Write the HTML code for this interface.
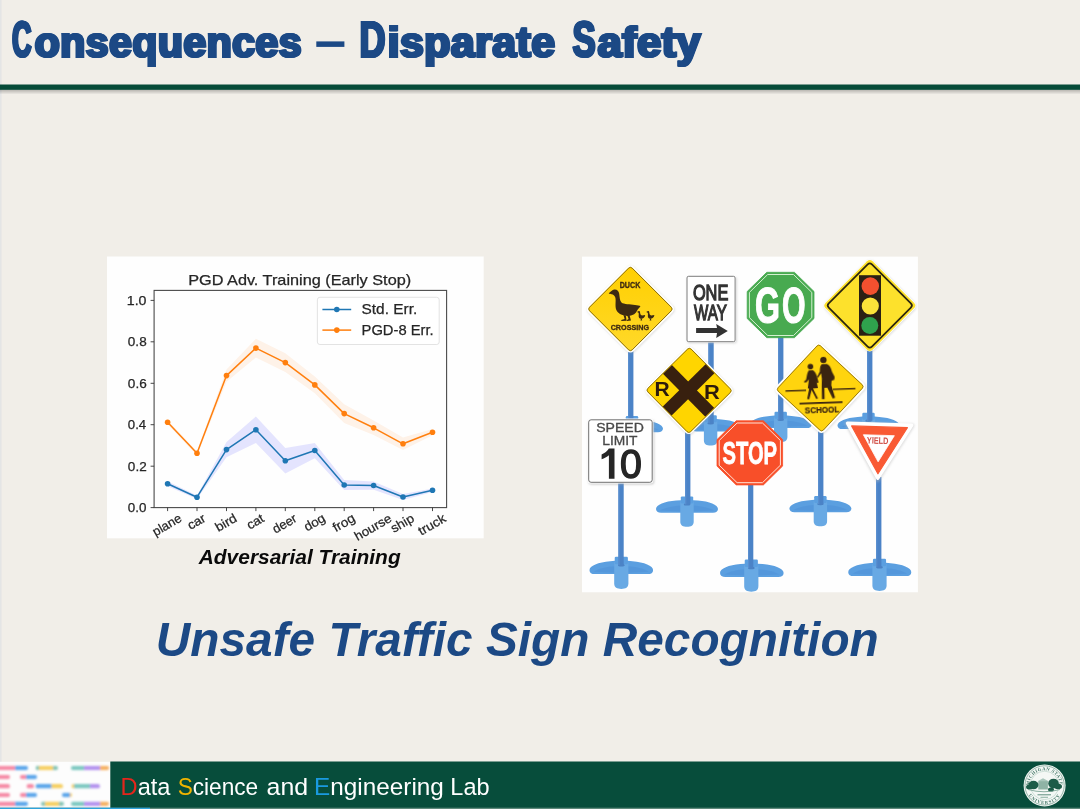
<!DOCTYPE html>
<html><head><meta charset="utf-8">
<style>
html,body{margin:0;padding:0;}
body{width:1080px;height:809px;overflow:hidden;background:#f1eee8;font-family:"Liberation Sans",sans-serif;position:relative;}
svg{position:absolute;left:0;top:0;}
text{font-family:"Liberation Sans",sans-serif;}
</style></head><body>
<svg width="1080" height="809" viewBox="0 0 1080 809">
<defs>
<filter id="blur1" x="-10%" y="-10%" width="120%" height="120%"><feGaussianBlur stdDeviation="1.1"/></filter>
<filter id="blur05" x="-10%" y="-10%" width="120%" height="120%"><feGaussianBlur stdDeviation="0"/></filter>
<filter id="blur2" x="-20%" y="-20%" width="140%" height="140%"><feGaussianBlur stdDeviation="1.6"/></filter>
<linearGradient id="rulesh" x1="0" y1="0" x2="0" y2="1"><stop offset="0" stop-color="#000" stop-opacity="0.28"/><stop offset="1" stop-color="#000" stop-opacity="0"/></linearGradient>
<linearGradient id="ygrad" x1="0" y1="0" x2="1" y2="1"><stop offset="0" stop-color="#ffcf00"/><stop offset="1" stop-color="#ffd92a"/></linearGradient>
<clipPath id="signclip"><rect x="582" y="256.5" width="336" height="336"/></clipPath>
</defs>

<g opacity="0.999">
<text x="11.60" y="56.9" font-size="50.4" font-weight="bold" fill="#1c4985" stroke="#1c4985" stroke-width="2.0" textLength="19.5" lengthAdjust="spacingAndGlyphs" letter-spacing="0.4">C</text>
<text x="12.20" y="56.9" font-size="50.4" font-weight="bold" fill="#1c4985" stroke="#1c4985" stroke-width="2.0" textLength="19.5" lengthAdjust="spacingAndGlyphs" letter-spacing="0.4">C</text>
<text x="12.80" y="56.9" font-size="50.4" font-weight="bold" fill="#1c4985" stroke="#1c4985" stroke-width="2.0" textLength="19.5" lengthAdjust="spacingAndGlyphs" letter-spacing="0.4">C</text>
<text x="34.07" y="56.9" font-size="43.0" font-weight="bold" fill="#1c4985" stroke="#1c4985" stroke-width="2.0" textLength="267.27" lengthAdjust="spacingAndGlyphs" letter-spacing="0.4">onsequences</text>
<text x="34.67" y="56.9" font-size="43.0" font-weight="bold" fill="#1c4985" stroke="#1c4985" stroke-width="2.0" textLength="267.27" lengthAdjust="spacingAndGlyphs" letter-spacing="0.4">onsequences</text>
<text x="35.27" y="56.9" font-size="43.0" font-weight="bold" fill="#1c4985" stroke="#1c4985" stroke-width="2.0" textLength="267.27" lengthAdjust="spacingAndGlyphs" letter-spacing="0.4">onsequences</text>
<rect x="316.3" y="41.4" width="28.1" height="5.5" fill="#1c4985"/>
<text x="358.90" y="56.9" font-size="50.4" font-weight="bold" fill="#1c4985" stroke="#1c4985" stroke-width="2.0" textLength="26.31" lengthAdjust="spacingAndGlyphs" letter-spacing="0.4">D</text>
<text x="359.50" y="56.9" font-size="50.4" font-weight="bold" fill="#1c4985" stroke="#1c4985" stroke-width="2.0" textLength="26.31" lengthAdjust="spacingAndGlyphs" letter-spacing="0.4">D</text>
<text x="360.10" y="56.9" font-size="50.4" font-weight="bold" fill="#1c4985" stroke="#1c4985" stroke-width="2.0" textLength="26.31" lengthAdjust="spacingAndGlyphs" letter-spacing="0.4">D</text>
<text x="386.97" y="56.9" font-size="43.0" font-weight="bold" fill="#1c4985" stroke="#1c4985" stroke-width="2.0" textLength="167.95" lengthAdjust="spacingAndGlyphs" letter-spacing="0.4">isparate</text>
<text x="387.57" y="56.9" font-size="43.0" font-weight="bold" fill="#1c4985" stroke="#1c4985" stroke-width="2.0" textLength="167.95" lengthAdjust="spacingAndGlyphs" letter-spacing="0.4">isparate</text>
<text x="388.17" y="56.9" font-size="43.0" font-weight="bold" fill="#1c4985" stroke="#1c4985" stroke-width="2.0" textLength="167.95" lengthAdjust="spacingAndGlyphs" letter-spacing="0.4">isparate</text>
<text x="571.98" y="56.9" font-size="50.4" font-weight="bold" fill="#1c4985" stroke="#1c4985" stroke-width="2.0" textLength="23.23" lengthAdjust="spacingAndGlyphs" letter-spacing="0.4">S</text>
<text x="572.58" y="56.9" font-size="50.4" font-weight="bold" fill="#1c4985" stroke="#1c4985" stroke-width="2.0" textLength="23.23" lengthAdjust="spacingAndGlyphs" letter-spacing="0.4">S</text>
<text x="573.18" y="56.9" font-size="50.4" font-weight="bold" fill="#1c4985" stroke="#1c4985" stroke-width="2.0" textLength="23.23" lengthAdjust="spacingAndGlyphs" letter-spacing="0.4">S</text>
<text x="596.98" y="56.9" font-size="43.0" font-weight="bold" fill="#1c4985" stroke="#1c4985" stroke-width="2.0" textLength="103.55" lengthAdjust="spacingAndGlyphs" letter-spacing="0.4">afety</text>
<text x="597.58" y="56.9" font-size="43.0" font-weight="bold" fill="#1c4985" stroke="#1c4985" stroke-width="2.0" textLength="103.55" lengthAdjust="spacingAndGlyphs" letter-spacing="0.4">afety</text>
<text x="598.18" y="56.9" font-size="43.0" font-weight="bold" fill="#1c4985" stroke="#1c4985" stroke-width="2.0" textLength="103.55" lengthAdjust="spacingAndGlyphs" letter-spacing="0.4">afety</text>
<rect x="0" y="0" width="1.6" height="762" fill="#e4e5e5"/>
<rect x="0" y="89" width="1080" height="5.5" fill="url(#rulesh)"/>
<rect x="0" y="84.5" width="1080" height="5.3" fill="#064b38"/>
<g id="chart">
<rect x="107" y="256.5" width="376.7" height="281.8" fill="#fefefe"/>
<polygon points="167.6,420.2 197.0,451.2 226.5,369.4 255.9,338.7 285.3,353.2 314.8,376.6 344.2,404.3 373.6,420.6 403.0,437.6 432.5,429.1 432.5,435.3 403.0,450.0 373.6,435.1 344.2,422.9 314.8,393.2 285.3,371.9 255.9,357.4 226.5,381.8 197.0,455.4 167.6,424.3" fill="#ff7f0e" fill-opacity="0.09"/>
<polygon points="167.6,481.3 197.0,495.6 226.5,441.9 255.9,416.4 285.3,448.1 314.8,442.9 344.2,480.0 373.6,481.4 403.0,493.9 432.5,488.5 432.5,491.9 403.0,500.1 373.6,489.7 344.2,490.0 314.8,458.2 285.3,473.4 255.9,443.0 226.5,457.3 197.0,498.9 167.6,486.3" fill="#0000ff" fill-opacity="0.1"/>
<polyline points="167.6,422.2 197.0,453.3 226.5,375.6 255.9,348.1 285.3,362.6 314.8,384.9 344.2,413.6 373.6,427.8 403.0,443.8 432.5,432.2" fill="none" stroke="#ff7f0e" stroke-width="1.5" stroke-linejoin="round"/>
<circle cx="167.6" cy="422.2" r="2.8" fill="#ff7f0e"/>
<circle cx="197.0" cy="453.3" r="2.8" fill="#ff7f0e"/>
<circle cx="226.5" cy="375.6" r="2.8" fill="#ff7f0e"/>
<circle cx="255.9" cy="348.1" r="2.8" fill="#ff7f0e"/>
<circle cx="285.3" cy="362.6" r="2.8" fill="#ff7f0e"/>
<circle cx="314.8" cy="384.9" r="2.8" fill="#ff7f0e"/>
<circle cx="344.2" cy="413.6" r="2.8" fill="#ff7f0e"/>
<circle cx="373.6" cy="427.8" r="2.8" fill="#ff7f0e"/>
<circle cx="403.0" cy="443.8" r="2.8" fill="#ff7f0e"/>
<circle cx="432.5" cy="432.2" r="2.8" fill="#ff7f0e"/>
<polyline points="167.6,483.8 197.0,497.2 226.5,449.6 255.9,429.7 285.3,460.8 314.8,450.5 344.2,485.0 373.6,485.5 403.0,497.0 432.5,490.2" fill="none" stroke="#1f77b4" stroke-width="1.5" stroke-linejoin="round"/>
<circle cx="167.6" cy="483.8" r="2.8" fill="#1f77b4"/>
<circle cx="197.0" cy="497.2" r="2.8" fill="#1f77b4"/>
<circle cx="226.5" cy="449.6" r="2.8" fill="#1f77b4"/>
<circle cx="255.9" cy="429.7" r="2.8" fill="#1f77b4"/>
<circle cx="285.3" cy="460.8" r="2.8" fill="#1f77b4"/>
<circle cx="314.8" cy="450.5" r="2.8" fill="#1f77b4"/>
<circle cx="344.2" cy="485.0" r="2.8" fill="#1f77b4"/>
<circle cx="373.6" cy="485.5" r="2.8" fill="#1f77b4"/>
<circle cx="403.0" cy="497.0" r="2.8" fill="#1f77b4"/>
<circle cx="432.5" cy="490.2" r="2.8" fill="#1f77b4"/>
<rect x="154.1" y="290.4" width="292.5" height="217.20000000000005" fill="none" stroke="#4a4a4a" stroke-width="1.1"/>
<line x1="150.6" x2="154.1" y1="507.6" y2="507.6" stroke="#333" stroke-width="0.9"/>
<text x="127.87" y="512.0" font-size="12.7" font-weight="normal" font-style="normal" fill="#262626" stroke="#262626" stroke-width="0.25" textLength="18.58" lengthAdjust="spacingAndGlyphs">0.0</text>
<line x1="150.6" x2="154.1" y1="466.2" y2="466.2" stroke="#333" stroke-width="0.9"/>
<text x="127.87" y="470.6" font-size="12.7" font-weight="normal" font-style="normal" fill="#262626" stroke="#262626" stroke-width="0.25" textLength="18.8" lengthAdjust="spacingAndGlyphs">0.2</text>
<line x1="150.6" x2="154.1" y1="424.7" y2="424.7" stroke="#333" stroke-width="0.9"/>
<text x="127.87" y="429.1" font-size="12.7" font-weight="normal" font-style="normal" fill="#262626" stroke="#262626" stroke-width="0.25" textLength="18.35" lengthAdjust="spacingAndGlyphs">0.4</text>
<line x1="150.6" x2="154.1" y1="383.3" y2="383.3" stroke="#333" stroke-width="0.9"/>
<text x="127.87" y="387.7" font-size="12.7" font-weight="normal" font-style="normal" fill="#262626" stroke="#262626" stroke-width="0.25" textLength="18.85" lengthAdjust="spacingAndGlyphs">0.6</text>
<line x1="150.6" x2="154.1" y1="341.8" y2="341.8" stroke="#333" stroke-width="0.9"/>
<text x="127.87" y="346.2" font-size="12.7" font-weight="normal" font-style="normal" fill="#262626" stroke="#262626" stroke-width="0.25" textLength="18.79" lengthAdjust="spacingAndGlyphs">0.8</text>
<line x1="150.6" x2="154.1" y1="300.4" y2="300.4" stroke="#333" stroke-width="0.9"/>
<text x="126.76" y="304.8" font-size="12.7" font-weight="normal" font-style="normal" fill="#262626" stroke="#262626" stroke-width="0.25" textLength="19.7" lengthAdjust="spacingAndGlyphs">1.0</text>
<line x1="167.6" x2="167.6" y1="507.6" y2="511.1" stroke="#333" stroke-width="0.9"/>
<text x="-15.87" y="3.2" font-size="12.7" font-weight="normal" font-style="normal" fill="#262626" stroke="#262626" stroke-width="0.25" textLength="31.39" lengthAdjust="spacingAndGlyphs" transform="translate(167.6,525.7) rotate(-30)">plane</text>
<line x1="197.0" x2="197.0" y1="507.6" y2="511.1" stroke="#333" stroke-width="0.9"/>
<text x="-9.43" y="3.2" font-size="12.7" font-weight="normal" font-style="normal" fill="#262626" stroke="#262626" stroke-width="0.25" textLength="18.57" lengthAdjust="spacingAndGlyphs" transform="translate(197.0,522.6) rotate(-30)">car</text>
<line x1="226.5" x2="226.5" y1="507.6" y2="511.1" stroke="#333" stroke-width="0.9"/>
<text x="-11.45" y="3.2" font-size="12.7" font-weight="normal" font-style="normal" fill="#262626" stroke="#262626" stroke-width="0.25" textLength="22.81" lengthAdjust="spacingAndGlyphs" transform="translate(226.5,523.5) rotate(-30)">bird</text>
<line x1="255.9" x2="255.9" y1="507.6" y2="511.1" stroke="#333" stroke-width="0.9"/>
<text x="-9.09" y="3.2" font-size="12.7" font-weight="normal" font-style="normal" fill="#262626" stroke="#262626" stroke-width="0.25" textLength="17.79" lengthAdjust="spacingAndGlyphs" transform="translate(255.9,522.5) rotate(-30)">cat</text>
<line x1="285.3" x2="285.3" y1="507.6" y2="511.1" stroke="#333" stroke-width="0.9"/>
<text x="-13.15" y="3.2" font-size="12.7" font-weight="normal" font-style="normal" fill="#262626" stroke="#262626" stroke-width="0.25" textLength="25.78" lengthAdjust="spacingAndGlyphs" transform="translate(285.3,524.5) rotate(-30)">deer</text>
<line x1="314.8" x2="314.8" y1="507.6" y2="511.1" stroke="#333" stroke-width="0.9"/>
<text x="-10.9" y="3.2" font-size="12.7" font-weight="normal" font-style="normal" fill="#262626" stroke="#262626" stroke-width="0.25" textLength="22.32" lengthAdjust="spacingAndGlyphs" transform="translate(314.8,523.4) rotate(-30)">dog</text>
<line x1="344.2" x2="344.2" y1="507.6" y2="511.1" stroke="#333" stroke-width="0.9"/>
<text x="-11.68" y="3.2" font-size="12.7" font-weight="normal" font-style="normal" fill="#262626" stroke="#262626" stroke-width="0.25" textLength="23.57" lengthAdjust="spacingAndGlyphs" transform="translate(344.2,523.7) rotate(-30)">frog</text>
<line x1="373.6" x2="373.6" y1="507.6" y2="511.1" stroke="#333" stroke-width="0.9"/>
<text x="-20.46" y="3.2" font-size="12.7" font-weight="normal" font-style="normal" fill="#262626" stroke="#262626" stroke-width="0.25" textLength="40.55" lengthAdjust="spacingAndGlyphs" transform="translate(373.6,528.0) rotate(-30)">hourse</text>
<line x1="403.0" x2="403.0" y1="507.6" y2="511.1" stroke="#333" stroke-width="0.9"/>
<text x="-12.54" y="3.2" font-size="12.7" font-weight="normal" font-style="normal" fill="#262626" stroke="#262626" stroke-width="0.25" textLength="24.69" lengthAdjust="spacingAndGlyphs" transform="translate(403.0,524.0) rotate(-30)">ship</text>
<line x1="432.5" x2="432.5" y1="507.6" y2="511.1" stroke="#333" stroke-width="0.9"/>
<text x="-14.8" y="3.2" font-size="12.7" font-weight="normal" font-style="normal" fill="#262626" stroke="#262626" stroke-width="0.25" textLength="29.47" lengthAdjust="spacingAndGlyphs" transform="translate(432.5,525.5) rotate(-30)">truck</text>
<text x="188.2" y="285.2" font-size="14.8" font-weight="normal" font-style="normal" fill="#262626" stroke="#262626" stroke-width="0.25" textLength="222.97" lengthAdjust="spacingAndGlyphs">PGD Adv. Training (Early Stop)</text>
<rect x="317.4" y="297.3" width="121.8" height="47.2" rx="2.5" fill="#fff" fill-opacity="0.8" stroke="#d8d8d8" stroke-opacity="0.8" stroke-width="0.9"/>
<line x1="322.4" x2="351.2" y1="309.5" y2="309.5" stroke="#1f77b4" stroke-width="1.5"/><circle cx="336.8" cy="309.5" r="2.8" fill="#1f77b4"/>
<line x1="322.4" x2="351.2" y1="330.1" y2="330.1" stroke="#ff7f0e" stroke-width="1.5"/><circle cx="336.8" cy="330.1" r="2.8" fill="#ff7f0e"/>
<text x="361.51" y="314.2" font-size="14.8" font-weight="normal" font-style="normal" fill="#262626" stroke="#262626" stroke-width="0.25" textLength="55.7" lengthAdjust="spacingAndGlyphs">Std. Err.</text>
<text x="361.55" y="334.9" font-size="14.8" font-weight="normal" font-style="normal" fill="#262626" stroke="#262626" stroke-width="0.25" textLength="72.16" lengthAdjust="spacingAndGlyphs">PGD-8 Err.</text>
</g>
<g filter="url(#blur05)">
<text x="198.72" y="564" font-size="21.1" font-weight="bold" font-style="italic" fill="#0a0a0a" textLength="201.96" lengthAdjust="spacingAndGlyphs">Adversarial Training</text>
</g>
<g filter="url(#blur05)">
<text x="155.81" y="655.8" font-size="47.5" font-weight="bold" font-style="italic" fill="#1c4985" textLength="722.97" lengthAdjust="spacingAndGlyphs">Unsafe Traffic Sign Recognition</text>
</g>
<g id="signs" clip-path="url(#signclip)">
<rect x="581.7" y="256.3" width="336.2" height="336.2" fill="#fefefe"/>
<g transform="translate(632.0,416.0) scale(1.0)">
<path d="M-31,12.6 C-31,8.6 -22.32,5 -10.85,4.2 L-6,3.8 L6,3.8 L10.85,4.2 C22.32,5 31,8.6 31,12.6 C31,15 29,16.3 26,16.3 L-26,16.3 C-29,16.3 -31,15 -31,12.6 Z" fill="#5b9fe0"/>
<path d="M-6,9 C-13.950000000000001,9.5 -21.7,11 -27,14 L-6,15 Z" fill="#4a8cd4" opacity="0.4"/>
<path d="M6,9 C13.950000000000001,9.5 21.7,11 27,14 L6,15 Z" fill="#4a8cd4" opacity="0.4"/>
<path d="M-6.7,5 L6.7,5 L6.7,25 C6.7,29 4,30.3 0,30.3 C-4,30.3 -6.7,29 -6.7,25 Z" fill="#68a9e4"/>
<rect x="-6.2" y="0" width="12.4" height="7" rx="1.2" fill="#5b9fe0"/>
<ellipse cx="0" cy="8" rx="3.2" ry="1.2" fill="#3f74b8" opacity="0.7"/>
</g>
<rect x="628.1" y="345" width="5.3" height="79.0" fill="#4b83c7"/>
<rect x="628.1" y="345" width="1.2" height="79.0" fill="#5a8fd0"/>
<g transform="translate(710.6,415.2) scale(1.0)">
<path d="M-19,12.6 C-19,8.6 -13.68,5 -6.6499999999999995,4.2 L-6,3.8 L6,3.8 L10.85,4.2 C22.32,5 31,8.6 31,12.6 C31,15 29,16.3 26,16.3 L-14,16.3 C-17,16.3 -19,15 -19,12.6 Z" fill="#5b9fe0"/>
<path d="M-6,9 C-8.55,9.5 -13.299999999999999,11 -15,14 L-6,15 Z" fill="#4a8cd4" opacity="0.4"/>
<path d="M6,9 C13.950000000000001,9.5 21.7,11 27,14 L6,15 Z" fill="#4a8cd4" opacity="0.4"/>
<path d="M-6.7,5 L6.7,5 L6.7,25 C6.7,29 4,30.3 0,30.3 C-4,30.3 -6.7,29 -6.7,25 Z" fill="#68a9e4"/>
<rect x="-6.2" y="0" width="12.4" height="7" rx="1.2" fill="#5b9fe0"/>
<ellipse cx="0" cy="8" rx="3.2" ry="1.2" fill="#3f74b8" opacity="0.7"/>
</g>
<rect x="708.4" y="340" width="5.3" height="83.19999999999999" fill="#4b83c7"/>
<rect x="708.4" y="340" width="1.2" height="83.19999999999999" fill="#5a8fd0"/>
<g transform="translate(780.7,411.8) scale(1.0)">
<path d="M-31,12.6 C-31,8.6 -22.32,5 -10.85,4.2 L-6,3.8 L6,3.8 L10.85,4.2 C22.32,5 31,8.6 31,12.6 C31,15 29,16.3 26,16.3 L-26,16.3 C-29,16.3 -31,15 -31,12.6 Z" fill="#5b9fe0"/>
<path d="M-6,9 C-13.950000000000001,9.5 -21.7,11 -27,14 L-6,15 Z" fill="#4a8cd4" opacity="0.4"/>
<path d="M6,9 C13.950000000000001,9.5 21.7,11 27,14 L6,15 Z" fill="#4a8cd4" opacity="0.4"/>
<path d="M-6.7,5 L6.7,5 L6.7,25 C6.7,29 4,30.3 0,30.3 C-4,30.3 -6.7,29 -6.7,25 Z" fill="#68a9e4"/>
<rect x="-6.2" y="0" width="12.4" height="7" rx="1.2" fill="#5b9fe0"/>
<ellipse cx="0" cy="8" rx="3.2" ry="1.2" fill="#3f74b8" opacity="0.7"/>
</g>
<rect x="778.1" y="335" width="5.3" height="84.80000000000001" fill="#4b83c7"/>
<rect x="778.1" y="335" width="1.2" height="84.80000000000001" fill="#5a8fd0"/>
<g transform="translate(868.5,412.8) scale(1.0)">
<path d="M-31,12.6 C-31,8.6 -22.32,5 -10.85,4.2 L-6,3.8 L6,3.8 L10.85,4.2 C22.32,5 31,8.6 31,12.6 C31,15 29,16.3 26,16.3 L-26,16.3 C-29,16.3 -31,15 -31,12.6 Z" fill="#5b9fe0"/>
<path d="M-6,9 C-13.950000000000001,9.5 -21.7,11 -27,14 L-6,15 Z" fill="#4a8cd4" opacity="0.4"/>
<path d="M6,9 C13.950000000000001,9.5 21.7,11 27,14 L6,15 Z" fill="#4a8cd4" opacity="0.4"/>
<path d="M-6.7,5 L6.7,5 L6.7,25 C6.7,29 4,30.3 0,30.3 C-4,30.3 -6.7,29 -6.7,25 Z" fill="#68a9e4"/>
<rect x="-6.2" y="0" width="12.4" height="7" rx="1.2" fill="#5b9fe0"/>
<ellipse cx="0" cy="8" rx="3.2" ry="1.2" fill="#3f74b8" opacity="0.7"/>
</g>
<rect x="867.1" y="348" width="5.3" height="72.80000000000001" fill="#4b83c7"/>
<rect x="867.1" y="348" width="1.2" height="72.80000000000001" fill="#5a8fd0"/>
<g transform="translate(630.4,309.0) rotate(45)">
<rect x="-31.25" y="-31.95" width="64.29" height="64.29" rx="4.5" fill="#999" opacity="0.35" filter="url(#blur1)"/>
<rect x="-32.15" y="-32.15" width="64.29" height="64.29" rx="4.5" fill="#fff"/>
<rect x="-30.55" y="-30.55" width="61.09" height="61.09" rx="3.5" fill="url(#ygrad)"/>
<rect x="-30.15" y="-30.15" width="60.29" height="60.29" rx="2.5" fill="none" stroke="#7a5e10" stroke-width="0.8"/>
</g>
<g fill="#3d2a12" filter="url(#blur05)">
<text x="619.69" y="288.0" font-size="8.2" font-weight="bold" font-style="normal" fill="#3d2a12" stroke="#3d2a12" stroke-width="0.3" textLength="20.68" lengthAdjust="spacingAndGlyphs">DUCK</text>
<text x="610.66" y="330.0" font-size="7.9" font-weight="bold" font-style="normal" fill="#3d2a12" stroke="#3d2a12" stroke-width="0.3" textLength="38.52" lengthAdjust="spacingAndGlyphs">CROSSING</text>
<path d="M608.7,293.3 C610.5,292.3 611.6,290.2 614,289.6 C616.8,289 618.8,291 619.2,293.8 C619.8,297.5 619.6,300.5 621.5,302.6 C624,304.6 630,304.2 635,305 C637.5,305.4 639.3,305.6 640.5,305.9 C639.6,307.6 638,308.6 637.3,310.2 C636,313.3 633,315.6 629,315.9 C624,316.3 618.6,314.5 616.6,310.6 C614.6,306.6 616.3,300.6 615.3,297.6 C614.7,295.6 613.2,294.3 611.6,294.2 C610.5,294.1 609.5,294 608.7,293.3 Z"/>
<path d="M623.5,315 L624.6,319 L621.2,320 L621.4,321 L626.6,320.8 L625.8,315.4 Z"/>
<path d="M627.3,315.4 L628.6,319 L626.6,320.2 L627,321 L631,320.6 L629.6,315.4 Z"/>
<path d="M637.8000000000001,311.6 C638.6,310.6 640.0,311.0 640.1,312.40000000000003 C640.2,314.0 640.6,315.0 642.0,315.40000000000003 L645.2,315.0 C644.8000000000001,317.6 643.2,318.8 641.2,318.8 C639.2,318.8 638.4000000000001,317.0 638.7,315.0 C638.9000000000001,313.6 638.8000000000001,312.70000000000005 638.0,312.40000000000003 L637.0,312.1 Z"/>
<path d="M640.6,318.6 L640.8000000000001,320.20000000000005 L639.6,320.5 L642.2,320.6 L641.7,318.6 Z"/>
<path d="M647.0,311.6 C647.8,310.6 649.1999999999999,311.0 649.3,312.40000000000003 C649.4,314.0 649.8,315.0 651.1999999999999,315.40000000000003 L654.4,315.0 C654.0,317.6 652.4,318.8 650.4,318.8 C648.4,318.8 647.6,317.0 647.9,315.0 C648.1,313.6 648.0,312.70000000000005 647.1999999999999,312.40000000000003 L646.1999999999999,312.1 Z"/>
<path d="M649.8,318.6 L650.0,320.20000000000005 L648.8,320.5 L651.4,320.6 L650.9,318.6 Z"/>
</g>
<rect x="687.2" y="276.9" width="49.6" height="66.4" rx="2" fill="#bbb" opacity="0.6" filter="url(#blur1)"/>
<rect x="686.3" y="275.6" width="49.6" height="66.8" rx="2" fill="#fff"/>
<rect x="687" y="276.3" width="48.1" height="65.4" rx="1.6" fill="none" stroke="#5a5a5a" stroke-width="0.8"/>
<g fill="#333" filter="url(#blur05)">
<text x="692.89" y="299.6" font-size="22.8" font-weight="normal" font-style="normal" fill="#333" stroke="#333" stroke-width="1.3" textLength="35.48" lengthAdjust="spacingAndGlyphs">ONE</text>
<text x="694.12" y="320.2" font-size="22.0" font-weight="normal" font-style="normal" fill="#333" stroke="#333" stroke-width="1.3" textLength="32.85" lengthAdjust="spacingAndGlyphs">WAY</text>
<path d="M696.1,328 L717,328 L716.2,324 L727.8,330.9 L716.2,337.9 L717,333 L696.1,333 Z"/>
</g>
<polygon points="766.8,272.3 794.4,272.3 814.0,291.5 814.0,318.5 794.4,337.7 766.8,337.7 747.2,318.5 747.2,291.5" fill="#48aa50" stroke="#48aa50" stroke-width="0.8" stroke-linejoin="round"/>
<polygon points="767.7,274.5 793.5,274.5 811.8,292.4 811.8,317.6 793.5,335.5 767.7,335.5 749.4,317.6 749.4,292.4" fill="none" stroke="#d4f0d0" stroke-width="1"/>
<g fill="#fff" filter="url(#blur05)">
<text x="754.95" y="323.0" font-size="49.5" font-weight="bold" font-style="normal" fill="#fff" stroke="#fff" stroke-width="1.2" textLength="25.0" lengthAdjust="spacingAndGlyphs">G</text>
<text x="782.02" y="323.0" font-size="49.5" font-weight="bold" font-style="normal" fill="#fff" stroke="#fff" stroke-width="1.2" textLength="23.56" lengthAdjust="spacingAndGlyphs">O</text>
</g>
<g transform="translate(869.8,305.5) rotate(45)">
<rect x="-33.13" y="-33.83" width="68.07" height="68.07" rx="5" fill="#999" opacity="0.35" filter="url(#blur1)"/>
<rect x="-34.03" y="-34.03" width="68.07" height="68.07" rx="5" fill="#fff"/>
<rect x="-33.23" y="-33.23" width="66.47" height="66.47" rx="4" fill="#fde12c"/>
<rect x="-30.53" y="-30.53" width="61.07" height="61.07" rx="3" fill="none" stroke="#2a2410" stroke-width="1.7"/>
</g>
<rect x="859" y="275.2" width="22" height="60.5" fill="#2a2014"/>
<circle cx="870.3" cy="286.1" r="8.8" fill="#f3502f"/>
<circle cx="870.3" cy="306" r="8.6" fill="#fbe23a"/>
<circle cx="869.8" cy="325.6" r="8.5" fill="#2fa24d"/>
<g transform="translate(687.0,496.4) scale(1.0)">
<path d="M-31,12.6 C-31,8.6 -22.32,5 -10.85,4.2 L-6,3.8 L6,3.8 L10.85,4.2 C22.32,5 31,8.6 31,12.6 C31,15 29,16.3 26,16.3 L-26,16.3 C-29,16.3 -31,15 -31,12.6 Z" fill="#5b9fe0"/>
<path d="M-6,9 C-13.950000000000001,9.5 -21.7,11 -27,14 L-6,15 Z" fill="#4a8cd4" opacity="0.4"/>
<path d="M6,9 C13.950000000000001,9.5 21.7,11 27,14 L6,15 Z" fill="#4a8cd4" opacity="0.4"/>
<path d="M-6.7,5 L6.7,5 L6.7,25 C6.7,29 4,30.3 0,30.3 C-4,30.3 -6.7,29 -6.7,25 Z" fill="#68a9e4"/>
<rect x="-6.2" y="0" width="12.4" height="7" rx="1.2" fill="#5b9fe0"/>
<ellipse cx="0" cy="8" rx="3.2" ry="1.2" fill="#3f74b8" opacity="0.7"/>
</g>
<rect x="685.1" y="430" width="5.3" height="74.39999999999998" fill="#4b83c7"/>
<rect x="685.1" y="430" width="1.2" height="74.39999999999998" fill="#5a8fd0"/>
<g transform="translate(820.4,496.0) scale(1.0)">
<path d="M-31,12.6 C-31,8.6 -22.32,5 -10.85,4.2 L-6,3.8 L6,3.8 L10.85,4.2 C22.32,5 31,8.6 31,12.6 C31,15 29,16.3 26,16.3 L-26,16.3 C-29,16.3 -31,15 -31,12.6 Z" fill="#5b9fe0"/>
<path d="M-6,9 C-13.950000000000001,9.5 -21.7,11 -27,14 L-6,15 Z" fill="#4a8cd4" opacity="0.4"/>
<path d="M6,9 C13.950000000000001,9.5 21.7,11 27,14 L6,15 Z" fill="#4a8cd4" opacity="0.4"/>
<path d="M-6.7,5 L6.7,5 L6.7,25 C6.7,29 4,30.3 0,30.3 C-4,30.3 -6.7,29 -6.7,25 Z" fill="#68a9e4"/>
<rect x="-6.2" y="0" width="12.4" height="7" rx="1.2" fill="#5b9fe0"/>
<ellipse cx="0" cy="8" rx="3.2" ry="1.2" fill="#3f74b8" opacity="0.7"/>
</g>
<rect x="818.1" y="430" width="5.3" height="74.0" fill="#4b83c7"/>
<rect x="818.1" y="430" width="1.2" height="74.0" fill="#5a8fd0"/>
<g>
<g transform="translate(689.1,390.4) rotate(45.4)">
<rect x="-31.33" y="-32.03" width="64.46" height="64.46" rx="4.5" fill="#999" opacity="0.35" filter="url(#blur1)"/>
<rect x="-32.23" y="-32.23" width="64.46" height="64.46" rx="4.5" fill="#fff"/>
<rect x="-30.83" y="-30.83" width="61.66" height="61.66" rx="3.5" fill="#ffd500"/>
<rect x="-30.43" y="-30.43" width="60.86" height="60.86" rx="2.5" fill="none" stroke="#6a5010" stroke-width="0.7"/>
</g>
<g transform="translate(689.1,390.4) rotate(45.4)"><clipPath id="rrc"><rect x="-30.03" y="-30.03" width="60.06" height="60.06" rx="3"/></clipPath><g clip-path="url(#rrc)" fill="#38200f"><rect x="-40" y="-5.6" width="80" height="12.6"/><rect x="-7.0" y="-40" width="12.6" height="80"/></g></g>
<g fill="#2c1a0c" filter="url(#blur05)">
<text x="654.57" y="396.4" font-size="19.6" font-weight="bold" font-style="normal" fill="#2c1a0c" textLength="15.19" lengthAdjust="spacingAndGlyphs">R</text>
<text x="703.94" y="398.5" font-size="19.6" font-weight="bold" font-style="normal" fill="#2c1a0c" textLength="15.83" lengthAdjust="spacingAndGlyphs">R</text>
</g>
</g>
<g transform="translate(820.2,388.0) rotate(43)">
<rect x="-32.30" y="-33.00" width="66.39" height="66.39" rx="4.5" fill="#999" opacity="0.35" filter="url(#blur1)"/>
<rect x="-33.20" y="-33.20" width="66.39" height="66.39" rx="4.5" fill="#fff"/>
<rect x="-31.40" y="-31.40" width="62.79" height="62.79" rx="3.5" fill="#ffd40e"/>
<rect x="-31.00" y="-31.00" width="61.99" height="61.99" rx="2.5" fill="none" stroke="#7a5e10" stroke-width="0.7"/>
</g>
<g transform="rotate(-2 820.2 388)" filter="url(#blur05)">
<g stroke="#3a2410" stroke-width="1.4" fill="none"><line x1="785.4" y1="389.8" x2="806" y2="389.8"/><line x1="833" y1="389.8" x2="855.4" y2="389.8"/><line x1="799" y1="402.9" x2="842" y2="402.9" stroke-width="1.6"/></g>
<text x="804.09" y="412.7" font-size="8.7" font-weight="bold" font-style="normal" fill="#3a2410" stroke="#3a2410" stroke-width="0.2" textLength="34.2" lengthAdjust="spacingAndGlyphs">SCHOOL</text>
<g fill="#3a2410" transform="translate(0.2,0.7)">
<circle cx="811" cy="365.6" r="2.8"/>
<path d="M809.3,369.2 L813.4,369.2 C815.4,370.2 816.8,373.6 817.6,377.2 L818.6,381.8 L817,382.4 L816.4,380 L817.8,387.2 L812.8,387.6 L817.4,397.6 L815.8,398.2 L811.4,389 L808.6,398.2 L806.6,397.8 L809,387.6 L807.6,387.2 L809,378.2 L806.6,381 L804.4,381.4 L804,380.2 L806.2,378.6 C807,375.2 807.6,371 809.3,369.2 Z"/>
<circle cx="824.2" cy="359.4" r="3.2"/>
<path d="M822.4,363.6 L827.4,363.6 C830.4,364.6 831.6,368 832.4,371.6 L834.8,376.6 L834.4,379.6 L831.6,380.6 L831.2,385 L834.6,397.6 L832.2,398.4 L827.2,387.4 L824.2,387.2 L824,398.6 L821.4,398.6 L821.6,385.2 L822,378 L821.4,372.6 L818.2,377 L817.2,376.2 L820.2,370.8 C820.4,367.6 820.8,364.8 822.4,363.6 Z"/>
</g></g>
<g transform="translate(621.3,556.8) scale(1.06)">
<path d="M-30,12.6 C-30,8.6 -21.599999999999998,5 -10.5,4.2 L-6,3.8 L6,3.8 L10.5,4.2 C21.599999999999998,5 30,8.6 30,12.6 C30,15 28,16.3 25,16.3 L-25,16.3 C-28,16.3 -30,15 -30,12.6 Z" fill="#5b9fe0"/>
<path d="M-6,9 C-13.5,9.5 -21.0,11 -26,14 L-6,15 Z" fill="#4a8cd4" opacity="0.4"/>
<path d="M6,9 C13.5,9.5 21.0,11 26,14 L6,15 Z" fill="#4a8cd4" opacity="0.4"/>
<path d="M-6.7,5 L6.7,5 L6.7,25 C6.7,29 4,30.3 0,30.3 C-4,30.3 -6.7,29 -6.7,25 Z" fill="#68a9e4"/>
<rect x="-6.2" y="0" width="12.4" height="7" rx="1.2" fill="#5b9fe0"/>
<ellipse cx="0" cy="8" rx="3.2" ry="1.2" fill="#3f74b8" opacity="0.7"/>
</g>
<rect x="618.4" y="482" width="5.3" height="83.20000000000005" fill="#4b83c7"/>
<rect x="618.4" y="482" width="1.2" height="83.20000000000005" fill="#5a8fd0"/>
<g transform="translate(751.3,559.6) scale(1.06)">
<path d="M-29.5,12.6 C-29.5,8.6 -21.24,5 -10.325,4.2 L-6,3.8 L6,3.8 L10.674999999999999,4.2 C21.96,5 30.5,8.6 30.5,12.6 C30.5,15 28.5,16.3 25.5,16.3 L-24.5,16.3 C-27.5,16.3 -29.5,15 -29.5,12.6 Z" fill="#5b9fe0"/>
<path d="M-6,9 C-13.275,9.5 -20.65,11 -25.5,14 L-6,15 Z" fill="#4a8cd4" opacity="0.4"/>
<path d="M6,9 C13.725,9.5 21.349999999999998,11 26.5,14 L6,15 Z" fill="#4a8cd4" opacity="0.4"/>
<path d="M-6.7,5 L6.7,5 L6.7,25 C6.7,29 4,30.3 0,30.3 C-4,30.3 -6.7,29 -6.7,25 Z" fill="#68a9e4"/>
<rect x="-6.2" y="0" width="12.4" height="7" rx="1.2" fill="#5b9fe0"/>
<ellipse cx="0" cy="8" rx="3.2" ry="1.2" fill="#3f74b8" opacity="0.7"/>
</g>
<rect x="748.0" y="484" width="5.3" height="84.0" fill="#4b83c7"/>
<rect x="748.0" y="484" width="1.2" height="84.0" fill="#5a8fd0"/>
<g transform="translate(879.5,558.8) scale(1.06)">
<path d="M-29.5,12.6 C-29.5,8.6 -21.24,5 -10.325,4.2 L-6,3.8 L6,3.8 L10.5,4.2 C21.599999999999998,5 30,8.6 30,12.6 C30,15 28,16.3 25,16.3 L-24.5,16.3 C-27.5,16.3 -29.5,15 -29.5,12.6 Z" fill="#5b9fe0"/>
<path d="M-6,9 C-13.275,9.5 -20.65,11 -25.5,14 L-6,15 Z" fill="#4a8cd4" opacity="0.4"/>
<path d="M6,9 C13.5,9.5 21.0,11 26,14 L6,15 Z" fill="#4a8cd4" opacity="0.4"/>
<path d="M-6.7,5 L6.7,5 L6.7,25 C6.7,29 4,30.3 0,30.3 C-4,30.3 -6.7,29 -6.7,25 Z" fill="#68a9e4"/>
<rect x="-6.2" y="0" width="12.4" height="7" rx="1.2" fill="#5b9fe0"/>
<ellipse cx="0" cy="8" rx="3.2" ry="1.2" fill="#3f74b8" opacity="0.7"/>
</g>
<rect x="876.1" y="477" width="5.3" height="90.20000000000005" fill="#4b83c7"/>
<rect x="876.1" y="477" width="1.2" height="90.20000000000005" fill="#5a8fd0"/>
<rect x="588.4" y="420" width="65.8" height="64.6" rx="3" fill="#aaa" opacity="0.6" filter="url(#blur1)"/>
<rect x="587.5" y="418.6" width="65.9" height="64.9" rx="3" fill="#fff"/>
<rect x="588.7" y="419.8" width="63.5" height="62.5" rx="2.4" fill="none" stroke="#4a4a4a" stroke-width="0.8"/>
<g filter="url(#blur05)">
<text x="596.27" y="431.7" font-size="12.0" font-weight="normal" font-style="normal" fill="#484848" stroke="#484848" stroke-width="0.3" textLength="47.55" lengthAdjust="spacingAndGlyphs">SPEED</text>
<text x="602.26" y="444.6" font-size="12.5" font-weight="normal" font-style="normal" fill="#484848" stroke="#484848" stroke-width="0.3" textLength="35.24" lengthAdjust="spacingAndGlyphs">LIMIT</text>
<text x="620.05" y="478.2" font-size="41" font-weight="normal" font-style="normal" fill="#262626" stroke="#262626" stroke-width="1.4" textLength="21.88" lengthAdjust="spacingAndGlyphs">0</text>
<path d="M608.9,448.6 L614.5,448.6 L614.5,478.7 L608.9,478.7 L608.9,455.2 C606.8,457 604.4,458.3 601.6,459.2 L601.6,454.6 C604.8,453.2 607.4,451.2 608.9,448.6 Z" fill="#262626"/>
</g>
<polygon points="736.2,420.8 763.4,420.8 782.6,439.6 782.6,466.1 763.4,484.9 736.2,484.9 717.0,466.1 717.0,439.6" fill="#f84f29" stroke="#f84f29" stroke-width="0.8" stroke-linejoin="round"/>
<polygon points="737.1,423.0 762.5,423.0 780.4,440.5 780.4,465.2 762.5,482.7 737.1,482.7 719.2,465.2 719.2,440.5" fill="none" stroke="#ffe3d8" stroke-width="1"/>
<g fill="#fff" filter="url(#blur05)">
<text x="722.49" y="464.0" font-size="32.0" font-weight="bold" font-style="normal" fill="#fff" stroke="#fff" stroke-width="0.8" textLength="54.6" lengthAdjust="spacingAndGlyphs">STOP</text>
</g>
<g transform="translate(-0.6,1.2) rotate(1.8 879 445)">
<path d="M846.4,423.4 L912.6,423.4 L879.4,479 Z" fill="#bbb" stroke="#bbb" stroke-width="3.6" stroke-linejoin="round" opacity="0.5" filter="url(#blur1)"/>
<path d="M847.4,423 L911.6,423 L879.4,477 Z" fill="#fff" stroke="#fff" stroke-width="3.4" stroke-linejoin="round"/>
<path d="M851.6,425.6 L907.4,425.6 L879.4,472.6 Z" fill="#f95a34" stroke="#f95a34" stroke-width="1.2" stroke-linejoin="round"/>
<path d="M863.6,434 L894.6,434 L879.2,460.6 Z" fill="#fff" stroke="#fff" stroke-width="0.8" stroke-linejoin="round"/>
<text x="867.29" y="442.6" font-size="9.4" font-weight="bold" font-style="normal" fill="#d2524a" textLength="21.64" lengthAdjust="spacingAndGlyphs">YIELD</text>
</g>
</g>
<rect x="0" y="761.8" width="110.5" height="48" fill="#fdfdfd"/>
<rect x="110.3" y="761.5" width="970" height="48" fill="#074d3b"/>
<g filter="url(#blur1)">
<clipPath id="pc1"><rect x="-3" y="765.7" width="31" height="4.6" rx="2.3"/></clipPath>
<g clip-path="url(#pc1)">
<rect x="-3" y="765.7" width="18.3" height="4.6" fill="#f58aa5"/>
<rect x="15" y="765.7" width="13.3" height="4.6" fill="#5aa5ea"/>
</g>
<clipPath id="pc2"><rect x="35.5" y="765.7" width="22.5" height="4.6" rx="2.3"/></clipPath>
<g clip-path="url(#pc2)">
<rect x="35.5" y="765.7" width="3.8" height="4.6" fill="#86c5b5"/>
<rect x="39" y="765.7" width="14.3" height="4.6" fill="#f6cf62"/>
<rect x="53" y="765.7" width="5.3" height="4.6" fill="#86c5b5"/>
</g>
<clipPath id="pc3"><rect x="71" y="765.7" width="38" height="4.6" rx="2.3"/></clipPath>
<g clip-path="url(#pc3)">
<rect x="71" y="765.7" width="13.3" height="4.6" fill="#7cc7c0"/>
<rect x="84" y="765.7" width="16.3" height="4.6" fill="#b392ee"/>
<rect x="100" y="765.7" width="9.3" height="4.6" fill="#f5b062"/>
</g>
<clipPath id="pc4"><rect x="-3" y="774.7" width="13" height="4.6" rx="2.3"/></clipPath>
<g clip-path="url(#pc4)">
<rect x="-3" y="774.7" width="13.3" height="4.6" fill="#f58aa5"/>
</g>
<clipPath id="pc5"><rect x="20" y="774.7" width="17" height="4.6" rx="2.3"/></clipPath>
<g clip-path="url(#pc5)">
<rect x="20" y="774.7" width="6.3" height="4.6" fill="#f58aa5"/>
<rect x="26" y="774.7" width="11.3" height="4.6" fill="#5aa5ea"/>
</g>
<clipPath id="pc6"><rect x="-3" y="783.9000000000001" width="13" height="4.6" rx="2.3"/></clipPath>
<g clip-path="url(#pc6)">
<rect x="-3" y="783.9000000000001" width="13.3" height="4.6" fill="#f58aa5"/>
</g>
<clipPath id="pc7"><rect x="26.5" y="783.9000000000001" width="7.5" height="4.6" rx="2.3"/></clipPath>
<g clip-path="url(#pc7)">
<rect x="26.5" y="783.9000000000001" width="7.8" height="4.6" fill="#f58aa5"/>
</g>
<clipPath id="pc8"><rect x="35.5" y="783.9000000000001" width="27.5" height="4.6" rx="2.3"/></clipPath>
<g clip-path="url(#pc8)">
<rect x="35.5" y="783.9000000000001" width="16.3" height="4.6" fill="#5aa5ea"/>
<rect x="51.5" y="783.9000000000001" width="11.8" height="4.6" fill="#f6cf62"/>
</g>
<clipPath id="pc9"><rect x="71.5" y="783.9000000000001" width="28.5" height="4.6" rx="2.3"/></clipPath>
<g clip-path="url(#pc9)">
<rect x="71.5" y="783.9000000000001" width="2.8" height="4.6" fill="#f6cf62"/>
<rect x="74" y="783.9000000000001" width="16.3" height="4.6" fill="#7cc7c0"/>
<rect x="90" y="783.9000000000001" width="10.3" height="4.6" fill="#b392ee"/>
</g>
<clipPath id="pc10"><rect x="-3" y="792.7" width="13" height="4.6" rx="2.3"/></clipPath>
<g clip-path="url(#pc10)">
<rect x="-3" y="792.7" width="13.3" height="4.6" fill="#f58aa5"/>
</g>
<clipPath id="pc11"><rect x="20" y="792.7" width="17" height="4.6" rx="2.3"/></clipPath>
<g clip-path="url(#pc11)">
<rect x="20" y="792.7" width="6.3" height="4.6" fill="#f58aa5"/>
<rect x="26" y="792.7" width="11.3" height="4.6" fill="#5aa5ea"/>
</g>
<clipPath id="pc12"><rect x="62" y="792.7" width="10" height="4.6" rx="2.3"/></clipPath>
<g clip-path="url(#pc12)">
<rect x="62" y="792.7" width="8.3" height="4.6" fill="#5aa5ea"/>
<rect x="70" y="792.7" width="2.3" height="4.6" fill="#f6cf62"/>
</g>
<clipPath id="pc13"><rect x="-3" y="801.5" width="31" height="4.6" rx="2.3"/></clipPath>
<g clip-path="url(#pc13)">
<rect x="-3" y="801.5" width="18.3" height="4.6" fill="#f58aa5"/>
<rect x="15" y="801.5" width="13.3" height="4.6" fill="#5aa5ea"/>
</g>
<clipPath id="pc14"><rect x="41" y="801.5" width="23" height="4.6" rx="2.3"/></clipPath>
<g clip-path="url(#pc14)">
<rect x="41" y="801.5" width="4.3" height="4.6" fill="#86c5b5"/>
<rect x="45" y="801.5" width="14.3" height="4.6" fill="#f6cf62"/>
<rect x="59" y="801.5" width="5.3" height="4.6" fill="#86c5b5"/>
</g>
<clipPath id="pc15"><rect x="71" y="801.5" width="38" height="4.6" rx="2.3"/></clipPath>
<g clip-path="url(#pc15)">
<rect x="71" y="801.5" width="13.3" height="4.6" fill="#7cc7c0"/>
<rect x="84" y="801.5" width="16.3" height="4.6" fill="#b392ee"/>
<rect x="100" y="801.5" width="9.3" height="4.6" fill="#f5b062"/>
</g>
</g>
<g filter="url(#blur05)">
<text x="120.61" y="794.6" font-size="24.1" font-weight="normal" font-style="normal" fill="#fff" textLength="49.88" lengthAdjust="spacingAndGlyphs"><tspan fill="#e3261c">D</tspan>ata</text>
<text x="177.64" y="794.6" font-size="24.1" font-weight="normal" font-style="normal" fill="#fff" textLength="80.57" lengthAdjust="spacingAndGlyphs"><tspan fill="#f0b400">S</tspan>cience</text>
<text x="266.64" y="794.6" font-size="24.1" font-weight="normal" font-style="normal" fill="#fff" textLength="41.55" lengthAdjust="spacingAndGlyphs">and</text>
<text x="314.06" y="794.6" font-size="24.1" font-weight="normal" font-style="normal" fill="#fff" textLength="129.78" lengthAdjust="spacingAndGlyphs"><tspan fill="#1a9ae0">E</tspan>ngineering</text>
<text x="450.32" y="794.6" font-size="24.1" font-weight="normal" font-style="normal" fill="#fff" textLength="39.23" lengthAdjust="spacingAndGlyphs">Lab</text>
</g>
<g id="seal">
<circle cx="1044.6" cy="785.4" r="21" fill="#f4f8f5"/>
<circle cx="1044.6" cy="785.4" r="19.6" fill="none" stroke="#6f9a8a" stroke-width="0.7"/>
<circle cx="1044.6" cy="785.4" r="14.2" fill="none" stroke="#a5c4b8" stroke-width="0.5"/>
<path id="sealtop" d="M1029.4,785.4 A15.2,15.2 0 0 1 1059.8,785.4" fill="none"/>
<path id="sealbot" d="M1025.9,785.4 A18.7,18.7 0 0 0 1063.3,785.4" fill="none"/>
<text font-size="4.6" font-weight="bold" fill="#3f7564" letter-spacing="0.5" font-family="Liberation Serif, serif"><textPath href="#sealtop" startOffset="50%" text-anchor="middle" style="font-family:'Liberation Serif',serif">MICHIGAN STATE</textPath></text>
<text font-size="4.6" font-weight="bold" fill="#3f7564" letter-spacing="0.9"><textPath href="#sealbot" startOffset="50%" text-anchor="middle" style="font-family:'Liberation Serif',serif">UNIVERSITY</textPath></text>
<g filter="url(#blur05)">
<rect x="1038.3" y="781" width="9.6" height="8.5" fill="#8fb3a5"/>
<path d="M1037.5,781.3 L1043,778.2 L1048.7,781.3 Z" fill="#a9c6bb"/>
<ellipse cx="1033.5" cy="785" rx="5" ry="4.2" fill="#1d5c48"/>
<ellipse cx="1029.5" cy="787" rx="3.5" ry="2.5" fill="#1d5c48"/>
<ellipse cx="1053.5" cy="783.5" rx="5.3" ry="4.8" fill="#1d5c48"/>
<ellipse cx="1058" cy="786.5" rx="4" ry="2.8" fill="#1d5c48"/>
<ellipse cx="1051" cy="789.5" rx="3" ry="2" fill="#1d5c48"/>
<path d="M1028,789.5 Q1044,794 1060,789.5" stroke="#6f9a8a" stroke-width="0.8" fill="none"/>
<rect x="1037.5" y="794.3" width="13.5" height="1" fill="#5f8f7e"/>
<rect x="1040.5" y="796.8" width="7.5" height="0.9" fill="#7fa898"/>
</g>
</g>
<rect x="0" y="807.7" width="1080" height="1.3" fill="#5f8a7c"/>
<rect x="0" y="807.7" width="150" height="1.3" fill="#2ea4dc"/>
</g></svg></body></html>
